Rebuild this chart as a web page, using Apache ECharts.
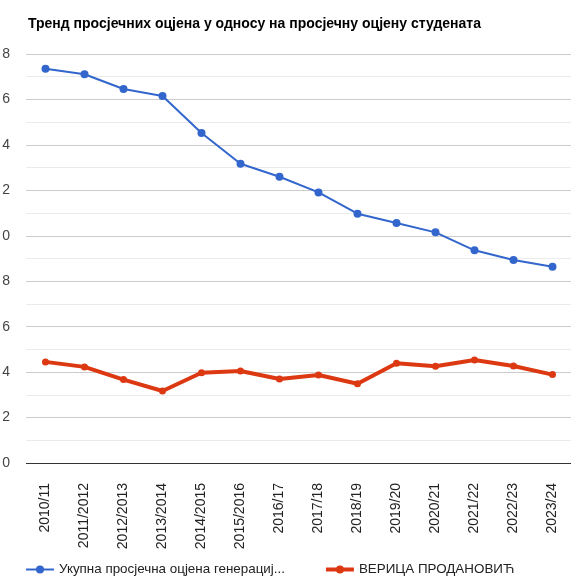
<!DOCTYPE html>
<html>
<head>
<meta charset="utf-8">
<script src="https://cdn.jsdelivr.net/npm/echarts@6/dist/echarts.min.js"></script>
<style>
html,body{margin:0;padding:0;background:#fff;}
#c{width:571px;height:578px;}
</style>
</head>
<body>
<div id="c"></div>
<script>
var categories = ['2010/11','2011/2012','2012/2013','2013/2014','2014/2015','2015/2016','2016/17','2017/18','2018/19','2019/20','2020/21','2021/22','2022/23','2023/24'];
var totalAverage = [17.35,17.11,16.46,16.15,14.52,13.17,12.60,11.91,10.97,10.56,10.15,9.36,8.93,8.64];
var studentAverage = [4.45,4.23,3.67,3.17,3.97,4.05,3.70,3.87,3.49,4.39,4.26,4.53,4.27,3.89];
var seriesNames = ['Укупна просјечна оцјена генерације студената','ВЕРИЦА ПРОДАНОВИЋ'];
var legendLabels = ['Укупна просјечна оцјена генерациј...','ВЕРИЦА ПРОДАНОВИЋ'];
// tick labels as they appear (left part of two-digit labels is cut off in the original)
var yTickLabels = ['0','2','4','6','8','0','2','4','6','8'];
var yMin = 0, yMax = 18, yStep = 2;

var chart = echarts.init(document.getElementById('c'), null, {renderer:'canvas'});
var FONT = 'Liberation Sans, Arial, sans-serif';
chart.setOption({
  animation:false,
  backgroundColor:'#fff',
  title:{
    text:'Тренд просјечних оцјена у односу на просјечну оцјену студената',
    left:23, top:12,
    textStyle:{fontFamily:FONT, fontSize:14, fontWeight:'bold', color:'#000'}
  },
  grid:{left:26, right:-1, top:54, bottom:115, containLabel:false, outerBoundsMode:'none'},
  legend:{
    left:20, top:558,
    itemWidth:28, itemHeight:10, itemGap:39,
    textStyle:{fontFamily:FONT, fontSize:13.4, color:'#222'},
    formatter:function(name){ return legendLabels[seriesNames.indexOf(name)]; },
    data:[
      {name:seriesNames[0], lineStyle:{width:2}},
      {name:seriesNames[1], lineStyle:{width:4}}
    ]
  },
  xAxis:{
    type:'category',
    data:categories,
    boundaryGap:true,
    axisLine:{show:false},
    axisTick:{show:false},
    axisLabel:{rotate:90, margin:20, interval:0, fontFamily:FONT, fontSize:14, color:'#222'}
  },
  yAxis:{
    type:'value',
    min:yMin, max:yMax, interval:yStep,
    axisLine:{show:false},
    axisTick:{show:false},
    axisLabel:{margin:16, fontFamily:FONT, fontSize:14, color:'#444',
      formatter:function(v){ return yTickLabels[Math.round((v - yMin) / yStep)]; }},
    splitLine:{lineStyle:{color:'#cccccc', width:1}},
    minorTick:{show:false, splitNumber:2},
    minorSplitLine:{show:true, lineStyle:{color:'#ebebeb', width:1}}
  },
  series:[
    {
      name:seriesNames[0], type:'line', data:totalAverage,
      color:'#3366cc',
      symbol:'circle', symbolSize:8,
      lineStyle:{width:2, color:'#3366cc'},
      itemStyle:{color:'#3366cc'}
    },
    {
      name:seriesNames[1], type:'line', data:studentAverage,
      color:'#dc3912',
      symbol:'circle', symbolSize:7,
      lineStyle:{width:4, color:'#dc3912'},
      itemStyle:{color:'#dc3912'},
      markLine:{
        silent:true, symbol:'none', label:{show:false},
        lineStyle:{color:'#333', width:1, type:'solid'},
        data:[{yAxis:0}]
      }
    }
  ]
});
</script>
</body>
</html>
